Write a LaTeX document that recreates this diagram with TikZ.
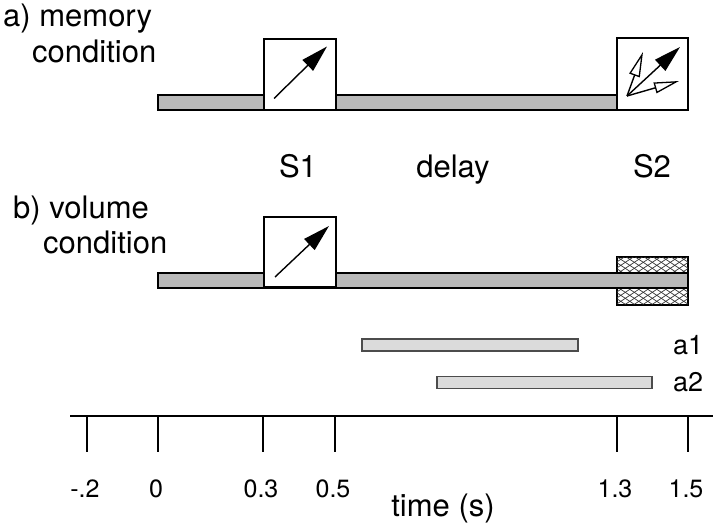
\documentclass[tikz,border=0pt]{standalone}
\usepackage{fontspec}
\setmainfont{TeX Gyre Heros}
\usetikzlibrary{arrows.meta,calc}
\tikzset{
  big/.style={inner sep=0pt, font=\fontsize{31}{36}\selectfont},
  mid/.style={inner sep=0pt, font=\fontsize{27}{32}\selectfont},
  ticklbl/.style={inner sep=0pt, anchor=base, font=\fontsize{25}{30}\selectfont},
  stim/.style={draw=black, line width=1.4pt, fill=white, inner sep=0pt, minimum width=72pt, minimum height=71pt},
  graybar/.style={draw=black, line width=1.3pt, fill=gray!55, inner sep=0pt},
  anbar/.style={draw=gray!60!black, line width=1.3pt, fill=gray!28, inner sep=0pt, minimum height=12pt},
  hatchline/.style={draw=black!80, line width=0.7pt},
  filledarrow/.style={line width=1.4pt, -{Triangle[length=27pt,width=15pt]}},
  openarrow/.style={line width=1.4pt, -{Triangle[open,fill=white,length=25pt,width=11pt,line width=1.3pt]}},
  axisline/.style={line width=1.6pt},
  tickline/.style={line width=1.3pt}
}
\begin{document}
\begin{tikzpicture}[x=1pt,y=-1pt]
\useasboundingbox (0,0) rectangle (720,524);

% ---------- a) memory condition ----------
\node[big, anchor=base west] (ta1) at (3,27) {a) memory};
\node[big, anchor=base west] (ta2) at (32,63) {condition};

\node[graybar, minimum width=459pt, minimum height=15pt] (bara) at (387.5,102.5) {};
\node[stim] (s1a) at (300,74.5) {};
\node[stim, minimum width=71pt, minimum height=72pt] (s2a) at (652.5,74) {};

\draw[filledarrow] ([shift={(-26,24)}]s1a.center) -- ([shift={(27,-28)}]s1a.center);

\coordinate (o2) at ([shift={(-25.5,22)}]s2a.center);
\draw[openarrow] (o2) -- ([shift={(-9.5,-22)}]s2a.center);
\draw[openarrow] (o2) -- ([shift={(26.5,7)}]s2a.center);
\draw[filledarrow] (o2) -- ([shift={(27.5,-27)}]s2a.center);

\node[big, anchor=base] (ls1) at (298,177) {S1};
\node[big, anchor=base] (ldel) at (453,177) {delay};
\node[big, anchor=base] (ls2) at (652,177) {S2};

% ---------- b) volume condition ----------
\node[big, anchor=base west] (tb1) at (13,218) {b) volume};
\node[big, anchor=base west] (tb2) at (43,253) {condition};

\node[draw=black, line width=1.4pt, fill=white, inner sep=0pt, minimum width=71pt, minimum height=48pt] (hatch) at (652.5,281) {};
\begin{scope}
  \clip (hatch.south west) rectangle (hatch.north east);
  \foreach \i in {-11,...,20} {
    \draw[hatchline] ($(hatch.north west)+(\i*9,0)$) -- ++(72,48);
    \draw[hatchline] ($(hatch.north west)+(\i*9,0)$) -- ++(-72,48);
  }
\end{scope}
\draw[line width=1.4pt] (hatch.south west) rectangle (hatch.north east);

\node[graybar, minimum width=530pt, minimum height=15pt] (barb) at (423,280.5) {};
\node[stim, minimum height=70pt] (s1b) at (300,252) {};
\draw[filledarrow] ([shift={(-25,25)}]s1b.center) -- ([shift={(29,-26)}]s1b.center);

% ---------- analysis windows ----------
\node[anbar, minimum width=216pt] (a1bar) at (470,345) {};
\node[anbar, minimum width=215pt] (a2bar) at (544.5,382.5) {};
\node[mid, anchor=base west] (la1) at (673,354) {a1};
\node[mid, anchor=base west] (la2) at (673,391) {a2};

% ---------- time axis ----------
\coordinate (axL) at (70,416);
\coordinate (axR) at (713,416);
\draw[axisline] (axL) -- (axR);
\foreach \x/\t in {87/-.2, 158/0, 263/0.3, 335/0.5, 617/1.3, 688/1.5} {
  \draw[tickline] (\x,416) -- (\x,452);
  \node[ticklbl] at (\x-2,497) {\t};
}
\node[big, anchor=base] (ltime) at (443,516) {time (s)};
\end{tikzpicture}
\end{document}
